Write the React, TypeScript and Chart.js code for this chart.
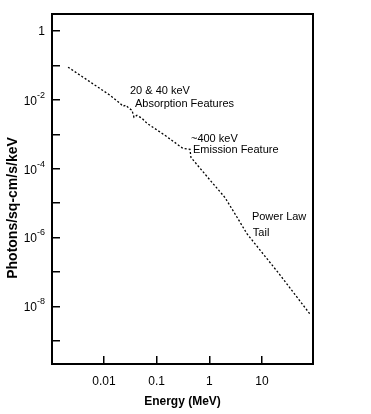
import React, { useEffect, useRef } from "react";
import { Chart, registerables } from "chart.js";

Chart.register(...registerables);

// Spectrum (Energy in MeV, photon flux in photons/sq-cm/s/keV)
const energyMeV = [
  0.00208, 0.00675, 0.013, 0.0201, 0.023, 0.0261, 0.0298, 0.034, 0.0371, 0.0423,
  0.0526, 0.0655, 0.144, 0.315, 0.429, 0.448, 0.94, 1.98, 3.06, 5.17, 21.9, 81,
];
const photonFlux = [
  0.0891, 0.0267, 0.0136, 0.00796, 0.0065, 0.00697, 0.00569, 0.00498, 0.00311, 0.00356,
  0.00291, 0.00208, 0.00093, 0.000388, 0.000363, 0.000212, 5.5e-5, 1.45e-5, 4.9e-6, 1.29e-6,
  8.2e-8, 6.0e-9,
];

const xTickValues = [0.01, 0.1, 1, 10];
const xTickLabels = ["0.01", "0.1", "1", "10"];
const yTickExponents = [0, -1, -2, -3, -4, -5, -6, -7, -8, -9];
const yLabelExponents = [0, -2, -4, -6, -8];

const xTitle = "Energy (MeV)";
const yTitle = "Photons/sq-cm/s/keV";

// Annotation texts anchored in data space (energy, flux)
const noteTexts = ["20 & 40 keV", "Absorption Features", "~400 keV", "Emission Feature", "Power Law", "Tail"];
const noteEnergy = [0.0311, 0.0387, 0.448, 0.489, 6.43, 6.71];
const noteFlux = [0.0178, 0.00744, 0.00071, 0.00034, 4.04e-6, 1.38e-6];

const FONT = "'Liberation Sans', Arial, sans-serif";

const decorPlugin = {
  id: "decor",
  afterDraw(chart: any) {
    const ctx = chart.ctx as CanvasRenderingContext2D;
    const { left, top, right, bottom } = chart.chartArea;
    const ys = chart.scales.y;
    const xs = chart.scales.x;
    ctx.save();
    // frame
    ctx.strokeStyle = "#000";
    ctx.lineWidth = 2;
    ctx.strokeRect(left, top, right - left, bottom - top);

    // y tick labels with superscript exponents
    ctx.fillStyle = "#000";
    const rx = left - 7;
    for (const e of yLabelExponents) {
      const py = ys.getPixelForValue(Math.pow(10, e));
      if (e === 0) {
        ctx.font = `12px ${FONT}`;
        ctx.textAlign = "right";
        ctx.textBaseline = "alphabetic";
        ctx.fillText("1", rx, py + 4);
      } else {
        const expText = String(e);
        ctx.font = `9px ${FONT}`;
        const w = ctx.measureText(expText).width;
        ctx.textAlign = "left";
        ctx.textBaseline = "alphabetic";
        ctx.fillText(expText, rx - w, py - 2);
        ctx.font = `12px ${FONT}`;
        ctx.textAlign = "right";
        ctx.fillText("10", rx - w, py + 5);
      }
    }

    // axis titles
    ctx.font = `bold 12px ${FONT}`;
    ctx.textAlign = "center";
    ctx.textBaseline = "middle";
    ctx.fillText(xTitle, (left + right) / 2, 402);

    ctx.save();
    ctx.translate(13, 208);
    ctx.rotate(-Math.PI / 2);
    ctx.font = `bold 14px ${FONT}`;
    ctx.fillText(yTitle, 0, 0);
    ctx.restore();

    // annotations
    ctx.font = `11px ${FONT}`;
    ctx.textAlign = "left";
    ctx.textBaseline = "middle";
    noteTexts.forEach((t, i) => {
      const px = xs.getPixelForValue(noteEnergy[i]);
      const py = ys.getPixelForValue(noteFlux[i]);
      ctx.fillText(t, px, py);
    });
    ctx.restore();
  },
};

export default function App() {
  const ref = useRef<HTMLCanvasElement>(null);
  useEffect(() => {
    const chart = new Chart(ref.current as HTMLCanvasElement, {
      type: "line",
      data: {
        datasets: [
          {
            data: energyMeV.map((e, i) => ({ x: e, y: photonFlux[i] })),
            borderColor: "#000",
            borderWidth: 1.3,
            borderDash: [2, 2],
            pointRadius: 0,
            fill: false,
            tension: 0,
          },
        ],
      },
      options: {
        animation: false,
        responsive: false,
        devicePixelRatio: 1,
        layout: { padding: { top: 14, right: 58, left: 0, bottom: 0 } },
        plugins: { legend: { display: false }, tooltip: { enabled: false }, title: { display: false } },
        scales: {
          x: {
            type: "logarithmic",
            min: 0.00103,
            max: 93,
            afterBuildTicks: (scale: any) => {
              scale.ticks = xTickValues.map((v) => ({ value: v }));
            },
            afterFit: (scale: any) => {
              scale.height = 50;
            },
            ticks: {
              autoSkip: false,
              maxRotation: 0,
              padding: 18,
              color: "#000",
              font: { size: 12, family: FONT },
              callback: (_v: any, i: number) => xTickLabels[i],
            },
            grid: { drawOnChartArea: false, tickLength: -8, color: "#000", lineWidth: 1.5 },
            border: { display: true, color: "#000", width: 2 },
          },
          y: {
            type: "logarithmic",
            min: 2.1e-10,
            max: 3.13,
            afterBuildTicks: (scale: any) => {
              scale.ticks = yTickExponents.map((e) => ({ value: Math.pow(10, e) }));
            },
            afterFit: (scale: any) => {
              scale.width = 52;
            },
            ticks: { display: false },
            grid: { drawOnChartArea: false, tickLength: -8, color: "#000", lineWidth: 1.5 },
            border: { display: true, color: "#000", width: 2 },
          },
        },
      },
      plugins: [decorPlugin],
    } as any);
    return () => chart.destroy();
  }, []);
  return (
    <div style={{ position: "fixed", left: 0, top: 0, width: 371, height: 414, background: "#fff" }}>
      <canvas ref={ref} width={371} height={414} style={{ width: 371, height: 414, display: "block" }} />
    </div>
  );
}
